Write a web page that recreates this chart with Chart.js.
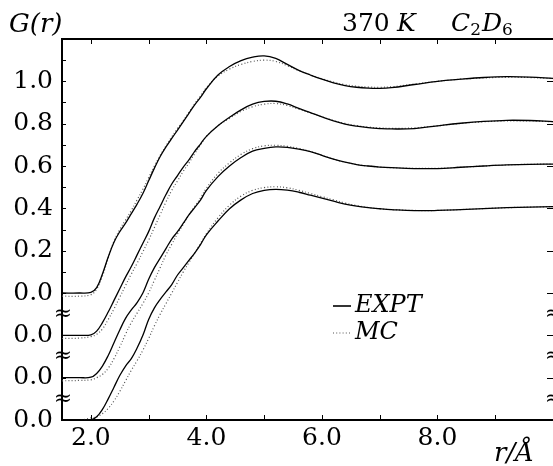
<!DOCTYPE html>
<html><head><meta charset="utf-8">
<script src="https://cdn.jsdelivr.net/npm/chart.js@4/dist/chart.umd.min.js"></script>
<style>html,body{margin:0;padding:0;background:#fff;overflow:hidden}#wrap{width:553px;height:466px;position:relative}</style>
</head><body><div id="wrap"><canvas id="c" width="553" height="466"></canvas></div>
<script>
// r in Angstrom
const r = [1.5,1.8,2.0,2.1,2.2,2.3,2.4,2.5,2.6,2.7,2.8,2.9,3.0,3.1,3.2,3.3,3.4,3.5,3.6,3.7,3.8,3.9,4.0,4.2,4.4,4.6,4.8,5.0,5.2,5.4,5.6,5.8,6.0,6.2,6.4,6.6,6.8,7.0,7.2,7.6,8.0,8.4,8.8,9.2,9.6,10.0];
// EXPT curves (as plotted, each shifted down by 0.2)
const exptA = [0,0,0.003,0.025,0.09,0.17,0.24,0.29,0.33,0.375,0.42,0.47,0.53,0.59,0.645,0.69,0.73,0.77,0.81,0.85,0.89,0.925,0.965,1.03,1.07,1.098,1.114,1.12,1.108,1.08,1.052,1.03,1.01,0.993,0.98,0.972,0.968,0.967,0.97,0.985,1.0,1.01,1.018,1.022,1.02,1.014];
const exptB = [-0.2,-0.2,-0.198,-0.18,-0.14,-0.09,-0.035,0.02,0.075,0.125,0.18,0.235,0.29,0.355,0.41,0.465,0.515,0.555,0.595,0.63,0.67,0.705,0.74,0.79,0.83,0.865,0.892,0.905,0.906,0.893,0.872,0.852,0.832,0.813,0.798,0.788,0.781,0.777,0.775,0.777,0.79,0.802,0.811,0.816,0.815,0.81];
const exptC = [-0.4,-0.4,-0.398,-0.38,-0.345,-0.295,-0.235,-0.175,-0.12,-0.08,-0.045,0.0,0.065,0.12,0.165,0.21,0.255,0.29,0.33,0.37,0.405,0.44,0.485,0.55,0.60,0.64,0.67,0.683,0.69,0.688,0.68,0.668,0.65,0.632,0.618,0.607,0.6,0.595,0.592,0.588,0.588,0.594,0.6,0.605,0.608,0.609];
const exptD = [-0.6,-0.6,-0.6,-0.585,-0.55,-0.50,-0.445,-0.39,-0.345,-0.31,-0.26,-0.2,-0.125,-0.07,-0.03,0.005,0.04,0.085,0.12,0.155,0.19,0.23,0.275,0.34,0.398,0.44,0.47,0.485,0.49,0.486,0.476,0.462,0.448,0.434,0.42,0.41,0.403,0.398,0.394,0.389,0.39,0.394,0.399,0.403,0.406,0.408];
// MC curves
const mcA = [-0.015,-0.015,-0.008,0.018,0.08,0.165,0.245,0.30,0.345,0.39,0.44,0.49,0.545,0.60,0.65,0.695,0.738,0.778,0.815,0.855,0.895,0.932,0.97,1.025,1.058,1.08,1.094,1.10,1.094,1.074,1.05,1.03,1.012,0.996,0.984,0.977,0.973,0.972,0.974,0.987,1.0,1.01,1.016,1.019,1.018,1.013];
const mcB = [-0.215,-0.213,-0.206,-0.195,-0.17,-0.125,-0.075,-0.02,0.035,0.09,0.14,0.195,0.25,0.31,0.37,0.43,0.485,0.53,0.575,0.615,0.66,0.70,0.74,0.79,0.825,0.858,0.88,0.892,0.895,0.886,0.868,0.85,0.832,0.815,0.801,0.791,0.784,0.78,0.778,0.78,0.79,0.801,0.809,0.813,0.813,0.809];
const mcC = [-0.415,-0.413,-0.41,-0.40,-0.385,-0.355,-0.31,-0.255,-0.195,-0.14,-0.095,-0.05,0.0,0.06,0.12,0.18,0.23,0.28,0.325,0.37,0.41,0.45,0.495,0.565,0.615,0.655,0.682,0.695,0.698,0.693,0.683,0.668,0.65,0.632,0.618,0.607,0.6,0.595,0.592,0.589,0.589,0.594,0.6,0.605,0.608,0.609];
const mcD = [-0.61,-0.603,-0.59,-0.585,-0.57,-0.545,-0.51,-0.465,-0.415,-0.365,-0.32,-0.27,-0.215,-0.155,-0.1,-0.05,0.0,0.05,0.1,0.145,0.19,0.235,0.28,0.355,0.415,0.458,0.485,0.498,0.502,0.497,0.485,0.47,0.455,0.44,0.425,0.413,0.404,0.398,0.394,0.39,0.39,0.394,0.399,0.403,0.406,0.408];

const xTickValues = [2,3,4,5,6,7,8,9];
const xTickLabels = ['2.0','','4.0','','6.0','','8.0',''];
const yTickValues = [-0.6,-0.4,-0.2,0,0.2,0.4,0.6,0.8,1.0];
const yTickLabels = ['0.0','0.0','0.0','0.0','0.2','0.4','0.6','0.8','1.0'];
const yMinorValues = [0.1,0.3,0.5,0.7,0.9,1.1];
const breakValues = [-0.1,-0.3,-0.5];
const seriesNames = ['EXPT','MC'];

const FONT = "'DejaVu Serif', serif";
const pts = ys => r.map((x,i)=>({x:x, y:ys[i]}));
const datasets = [];
[exptA,exptB,exptC,exptD].forEach(s=>datasets.push({label:seriesNames[0],data:pts(s),borderColor:'#000',borderWidth:1.3,pointRadius:0,tension:0.4,fill:false}));
[mcA,mcB,mcC,mcD].forEach(s=>datasets.push({label:seriesNames[1],data:pts(s),borderColor:'#555',borderWidth:1.2,borderDash:[1,2.2],pointRadius:0,tension:0.4,fill:false}));

const extras = {
  id:'extras',
  afterDraw(chart){
    const ctx = chart.ctx, a = chart.chartArea, xs = chart.scales.x, ys = chart.scales.y;
    ctx.save();
    ctx.strokeStyle = '#000'; ctx.fillStyle = '#000';
    ctx.lineWidth = 2;
    ctx.beginPath(); ctx.moveTo(a.left-1, a.top); ctx.lineTo(a.right, a.top); ctx.stroke();
    ctx.lineWidth = 1;
    xTickValues.forEach(v=>{
      const px = Math.round(xs.getPixelForValue(v))+0.5;
      ctx.beginPath(); ctx.moveTo(px, a.top); ctx.lineTo(px, a.top+5); ctx.stroke();
      ctx.beginPath(); ctx.moveTo(px, a.bottom); ctx.lineTo(px, a.bottom-5); ctx.stroke();
    });
    yTickValues.concat(yMinorValues).forEach(v=>{
      if (v <= -0.6) return;
      const py = Math.round(ys.getPixelForValue(v))+0.5;
      ctx.beginPath(); ctx.moveTo(a.left, py); ctx.lineTo(a.left+4, py); ctx.stroke();
    });
    yTickValues.forEach(v=>{
      if (v <= -0.6) return;
      const py = Math.round(ys.getPixelForValue(v))+0.5;
      ctx.beginPath(); ctx.moveTo(a.right, py); ctx.lineTo(a.right-6, py); ctx.stroke();
    });
    ctx.font = '22px ' + FONT; ctx.textAlign = 'center'; ctx.textBaseline = 'middle';
    breakValues.forEach(v=>{
      const py = ys.getPixelForValue(v);
      ctx.fillText('\u2248', a.left+1, py);
      ctx.fillText('\u2248', a.right+1, py);
    });
    ctx.textAlign = 'left'; ctx.textBaseline = 'alphabetic';
    ctx.font = 'italic 26px ' + FONT;
    ctx.fillText('G(r)', 9, 32);
    ctx.font = '25px ' + FONT;
    ctx.fillText('370', 342, 31);
    ctx.font = 'italic 25px ' + FONT;
    ctx.fillText('K', 397, 31);
    let x = 451;
    ctx.fillText('C', x, 31); x += ctx.measureText('C').width;
    ctx.font = '17px ' + FONT; ctx.fillText('2', x, 35); x += ctx.measureText('2').width + 1;
    ctx.font = 'italic 25px ' + FONT; ctx.fillText('D', x, 31); x += ctx.measureText('D').width;
    ctx.font = '17px ' + FONT; ctx.fillText('6', x, 35);
    ctx.font = 'italic 26px ' + FONT;
    ctx.fillText('r/\u00C5', 494, 461);
    const ly = [306, 333];
    ctx.textBaseline = 'middle';
    [0,4].forEach((di,k)=>{
      const ds = chart.data.datasets[di];
      ctx.save();
      ctx.strokeStyle = ds.borderColor; ctx.lineWidth = di===0 ? 1.6 : 1.2;
      ctx.setLineDash(ds.borderDash || []);
      ctx.beginPath(); ctx.moveTo(333, ly[k]); ctx.lineTo(351, ly[k]); ctx.stroke();
      ctx.restore();
      ctx.font = 'italic 24px ' + FONT; ctx.fillStyle = '#000';
      ctx.fillText(ds.label, 355, ly[k]);
    });
    ctx.restore();
  }
};

new Chart(document.getElementById('c'), {
  type:'line',
  data:{datasets:datasets},
  options:{
    responsive:false, animation:false, devicePixelRatio:1,
    layout:{padding:{top:39,left:0,right:0,bottom:0}},
    plugins:{legend:{display:false}, tooltip:{enabled:false}, title:{display:false}},
    scales:{
      x:{type:'linear', min:1.5, max:10,
        afterBuildTicks:s=>{s.ticks = xTickValues.map(v=>({value:v}));},
        afterFit:s=>{s.height = 46;},
        ticks:{autoSkip:false, maxRotation:0, padding:3, color:'#000', font:{family:FONT,size:25,lineHeight:1.2}, callback:(v,i)=>xTickLabels[i]},
        grid:{display:false, drawTicks:false}, border:{display:true,color:'#000',width:2}},
      y:{type:'linear', min:-0.6, max:1.2,
        afterBuildTicks:s=>{s.ticks = yTickValues.map(v=>({value:v}));},
        afterFit:s=>{s.width = 62;},
        ticks:{autoSkip:false, padding:9, color:'#000', font:{family:FONT,size:25,lineHeight:1.2}, callback:(v,i)=>yTickLabels[i]},
        grid:{display:false, drawTicks:false}, border:{display:true,color:'#000',width:2}}
    }
  },
  plugins:[extras]
});
</script></body></html>
